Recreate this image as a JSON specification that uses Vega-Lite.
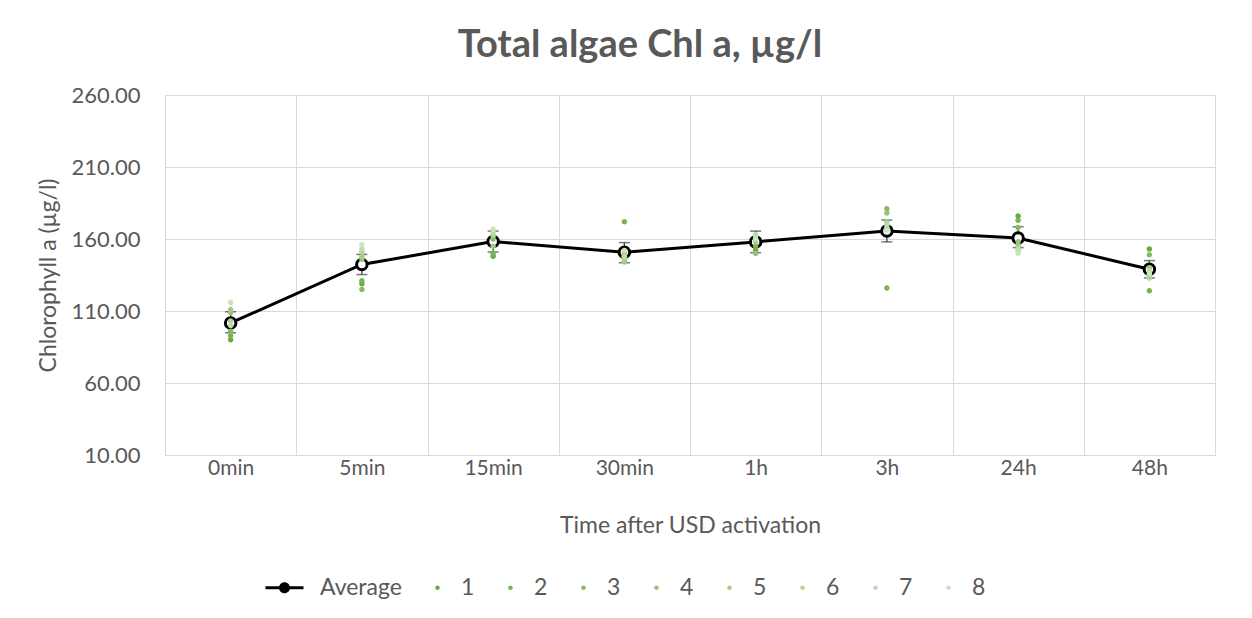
{
  "$schema": "https://vega.github.io/schema/vega-lite/v6.json",
  "width": 1050,
  "height": 360,
  "autosize": "none",
  "padding": {"left": 165, "top": 95, "right": 37, "bottom": 163},
  "background": "white",
  "title": {"text": "Total algae Chl a, µg/l", "fontSize": 38, "fontWeight": "bold", "font": "Lato", "color": "#595959", "offset": 19, "dx": -50},
  "config": {
    "font": "Lato",
    "view": {"stroke": "#d9d9d9"},
    "axis": {"labelColor": "#595959", "titleColor": "#595959", "titleFontWeight": "normal", "gridColor": "#d9d9d9", "domainColor": "#d9d9d9", "ticks": false}
  },
  "datasets": {
    "raw": [
      {"time": "0min", "series": "1", "value": 90}, {"time": "0min", "series": "2", "value": 93}, {"time": "0min", "series": "3", "value": 96}, {"time": "0min", "series": "4", "value": 109}, {"time": "0min", "series": "5", "value": 111}, {"time": "0min", "series": "6", "value": 103}, {"time": "0min", "series": "7", "value": 100}, {"time": "0min", "series": "8", "value": 116},
      {"time": "5min", "series": "1", "value": 129}, {"time": "5min", "series": "2", "value": 131}, {"time": "5min", "series": "3", "value": 125}, {"time": "5min", "series": "4", "value": 146}, {"time": "5min", "series": "5", "value": 148}, {"time": "5min", "series": "6", "value": 151}, {"time": "5min", "series": "7", "value": 153}, {"time": "5min", "series": "8", "value": 156},
      {"time": "15min", "series": "1", "value": 148}, {"time": "15min", "series": "2", "value": 150}, {"time": "15min", "series": "3", "value": 160}, {"time": "15min", "series": "4", "value": 162}, {"time": "15min", "series": "5", "value": 155}, {"time": "15min", "series": "6", "value": 163}, {"time": "15min", "series": "7", "value": 165}, {"time": "15min", "series": "8", "value": 167},
      {"time": "30min", "series": "1", "value": 148}, {"time": "30min", "series": "2", "value": 172}, {"time": "30min", "series": "3", "value": 146}, {"time": "30min", "series": "4", "value": 150}, {"time": "30min", "series": "5", "value": 144}, {"time": "30min", "series": "6", "value": 147}, {"time": "30min", "series": "7", "value": 148}, {"time": "30min", "series": "8", "value": 152},
      {"time": "1h", "series": "1", "value": 152}, {"time": "1h", "series": "2", "value": 155}, {"time": "1h", "series": "3", "value": 160}, {"time": "1h", "series": "4", "value": 150}, {"time": "1h", "series": "5", "value": 158}, {"time": "1h", "series": "6", "value": 162}, {"time": "1h", "series": "7", "value": 163}, {"time": "1h", "series": "8", "value": 160},
      {"time": "3h", "series": "1", "value": 168}, {"time": "3h", "series": "2", "value": 126}, {"time": "3h", "series": "3", "value": 181}, {"time": "3h", "series": "4", "value": 178}, {"time": "3h", "series": "5", "value": 172}, {"time": "3h", "series": "6", "value": 168}, {"time": "3h", "series": "7", "value": 170}, {"time": "3h", "series": "8", "value": 166},
      {"time": "24h", "series": "1", "value": 176}, {"time": "24h", "series": "2", "value": 173}, {"time": "24h", "series": "3", "value": 168}, {"time": "24h", "series": "4", "value": 158}, {"time": "24h", "series": "5", "value": 155}, {"time": "24h", "series": "6", "value": 152}, {"time": "24h", "series": "7", "value": 153}, {"time": "24h", "series": "8", "value": 150},
      {"time": "48h", "series": "1", "value": 153}, {"time": "48h", "series": "2", "value": 124}, {"time": "48h", "series": "3", "value": 149}, {"time": "48h", "series": "4", "value": 135}, {"time": "48h", "series": "5", "value": 140}, {"time": "48h", "series": "6", "value": 133}, {"time": "48h", "series": "7", "value": 138}, {"time": "48h", "series": "8", "value": 136}
    ],
    "avg": [
      {"time": "0min", "mean": 101.7, "lo": 94.9, "hi": 109.5},
      {"time": "5min", "mean": 142.3, "lo": 135.3, "hi": 149.3},
      {"time": "15min", "mean": 158.2, "lo": 151.0, "hi": 165.5},
      {"time": "30min", "mean": 150.8, "lo": 143.5, "hi": 157.5},
      {"time": "1h", "mean": 158.0, "lo": 150.5, "hi": 165.5},
      {"time": "3h", "mean": 165.6, "lo": 158.0, "hi": 173.2},
      {"time": "24h", "mean": 160.7, "lo": 154.0, "hi": 168.5},
      {"time": "48h", "mean": 139.0, "lo": 133.0, "hi": 145.0}
    ]
  },
  "encoding": {
    "x": {
      "field": "time", "type": "nominal",
      "sort": ["0min", "5min", "15min", "30min", "1h", "3h", "24h", "48h"],
      "scale": {"paddingInner": 0, "paddingOuter": 0},
      "title": "Time after USD activation",
      "axis": {"labelAngle": 0, "labelFontSize": 21, "titleFontSize": 23, "labelPadding": 2, "titlePadding": 36, "grid": true, "tickBand": "extent"}
    }
  },
  "layer": [
    {
      "data": {"name": "avg"},
      "mark": {"type": "line", "color": "black", "strokeWidth": 3},
      "encoding": {
        "y": {"field": "mean", "type": "quantitative", "title": "Chlorophyll a (µg/l)", "scale": {"domain": [10, 260], "nice": false, "zero": false},
          "axis": {"values": [10, 60, 110, 160, 210, 260], "format": ".2f", "labelFontSize": 22, "titleFontSize": 23, "labelPadding": 25, "titlePadding": 11, "domain": false, "grid": true}}
      }
    },
    {
      "data": {"name": "avg"},
      "mark": {"type": "rule", "color": "#404040", "strokeWidth": 1.3},
      "encoding": {
        "y": {"field": "lo", "type": "quantitative", "title": "Chlorophyll a (µg/l)"},
        "y2": {"field": "hi"}
      }
    },
    {
      "data": {"name": "avg"},
      "mark": {"type": "tick", "color": "#404040", "thickness": 1.5, "size": 11},
      "encoding": {"y": {"field": "lo", "type": "quantitative", "title": "Chlorophyll a (µg/l)"}}
    },
    {
      "data": {"name": "avg"},
      "mark": {"type": "tick", "color": "#404040", "thickness": 1.5, "size": 11},
      "encoding": {"y": {"field": "hi", "type": "quantitative", "title": "Chlorophyll a (µg/l)"}}
    },
    {
      "data": {"name": "avg"},
      "mark": {"type": "point", "shape": "circle", "filled": true, "fill": "white", "stroke": "black", "strokeWidth": 3, "size": 110, "opacity": 1},
      "encoding": {"y": {"field": "mean", "type": "quantitative", "title": "Chlorophyll a (µg/l)"}}
    },
    {
      "data": {"name": "raw"},
      "mark": {"type": "point", "filled": true, "size": 150, "opacity": 1},
      "encoding": {
        "y": {"field": "value", "type": "quantitative", "title": "Chlorophyll a (µg/l)"},
        "color": {"field": "series", "type": "nominal",
          "scale": {"domain": ["Average", "1", "2", "3", "4", "5", "6", "7", "8"], "range": ["#000000", "#6aaa40", "#78b355", "#86bb66", "#95c378", "#a3cb8a", "#b1d39c", "#bfdbae", "#cde3c0"]},
          "legend": {"title": null, "orient": "none", "legendX": 120, "legendY": 481, "direction": "horizontal", "symbolSize": 100, "labelFontSize": 23, "labelColor": "#595959", "columnPadding": 24, "labelOffset": 12, "symbolOpacity": 1}},
        "shape": {"field": "series", "type": "nominal",
          "scale": {"domain": ["Average", "1", "2", "3", "4", "5", "6", "7", "8"], "range": [
            "M-6.2,-0.3H-3.4V0.3H-6.2Z M-3.5,0A1.1,1.1 0 1,1 -1.3,0A1.1,1.1 0 1,1 -3.5,0Z M-1.4,-0.3H1.4V0.3H-1.4Z",
            "M-0.45,0A0.45,0.45 0 1,1 0.45,0A0.45,0.45 0 1,1 -0.45,0Z",
            "M-0.45,0A0.45,0.45 0 1,1 0.45,0A0.45,0.45 0 1,1 -0.45,0Z",
            "M-0.45,0A0.45,0.45 0 1,1 0.45,0A0.45,0.45 0 1,1 -0.45,0Z",
            "M-0.45,0A0.45,0.45 0 1,1 0.45,0A0.45,0.45 0 1,1 -0.45,0Z",
            "M-0.45,0A0.45,0.45 0 1,1 0.45,0A0.45,0.45 0 1,1 -0.45,0Z",
            "M-0.45,0A0.45,0.45 0 1,1 0.45,0A0.45,0.45 0 1,1 -0.45,0Z",
            "M-0.45,0A0.45,0.45 0 1,1 0.45,0A0.45,0.45 0 1,1 -0.45,0Z",
            "M-0.45,0A0.45,0.45 0 1,1 0.45,0A0.45,0.45 0 1,1 -0.45,0Z"]},
          "legend": {"title": null, "orient": "none", "legendX": 120, "legendY": 481, "direction": "horizontal", "symbolSize": 100, "labelFontSize": 23, "labelColor": "#595959", "columnPadding": 24, "labelOffset": 12, "symbolOpacity": 1}}
      }
    }
  ]
}
